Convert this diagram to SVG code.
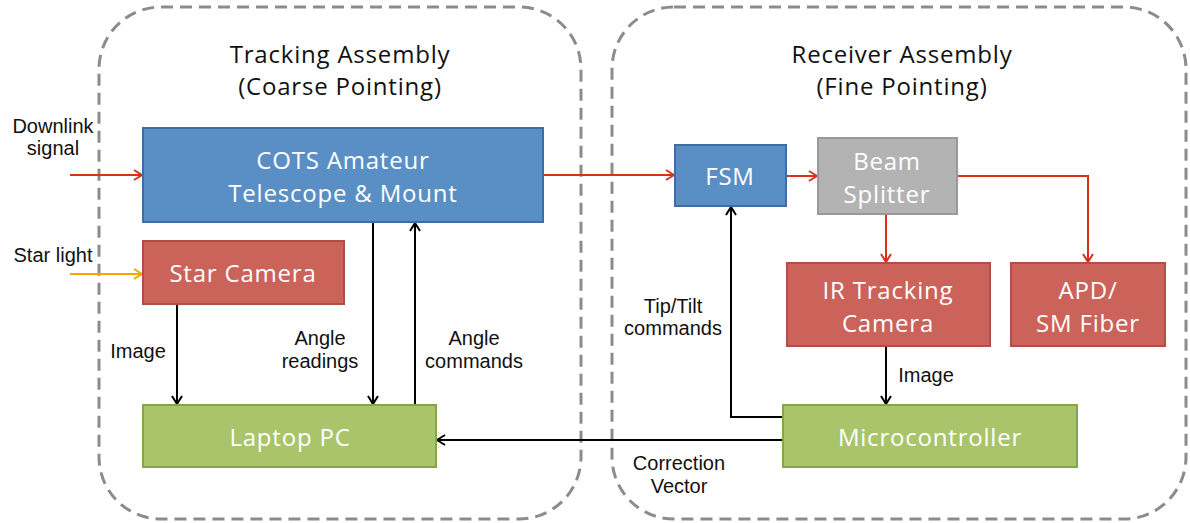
<svg xmlns="http://www.w3.org/2000/svg" width="1190" height="523" viewBox="0 0 1190 523">
  <defs>
    <style>
      .group { fill: none; stroke: #8c8c8c; stroke-width: 3; stroke-dasharray: 12 7; }
      .title { font-family: "Open Sans", Lato, sans-serif; font-size: 24px; letter-spacing: 0.8px; fill: #111; text-anchor: middle; }
      .node-text { font-family: "Open Sans", Lato, sans-serif; font-size: 24px; letter-spacing: 0.8px; fill: #ffffff; text-anchor: middle; }
      .label { font-family: "Liberation Sans", Arial, sans-serif; font-size: 20px; fill: #111; text-anchor: middle; }
      .blue { fill: #5a8fc6; stroke: #3f6d9e; stroke-width: 2; }
      .red { fill: #cb635a; stroke: #b04d45; stroke-width: 2; }
      .gray { fill: #b3b3b3; stroke: #999999; stroke-width: 2; }
      .green { fill: #a9c46b; stroke: #86a44a; stroke-width: 2; }
      .sig { fill: none; stroke: #d9301c; stroke-width: 2; }
      .star { fill: none; stroke: #f0a800; stroke-width: 2; }
      .ctl { fill: none; stroke: #000; stroke-width: 2; }
    </style>
    <marker id="ah-red" viewBox="0 0 12 12" refX="11" refY="6" markerWidth="12" markerHeight="12" markerUnits="userSpaceOnUse" orient="auto">
      <path d="M3,1 L11,6 L3,11" fill="none" stroke="#d9301c" stroke-width="2"/>
    </marker>
    <marker id="ah-orange" viewBox="0 0 12 12" refX="11" refY="6" markerWidth="12" markerHeight="12" markerUnits="userSpaceOnUse" orient="auto">
      <path d="M3,1 L11,6 L3,11" fill="none" stroke="#f0a800" stroke-width="2"/>
    </marker>
    <marker id="ah-black" viewBox="0 0 12 12" refX="11" refY="6" markerWidth="12" markerHeight="12" markerUnits="userSpaceOnUse" orient="auto">
      <path d="M3,1 L11,6 L3,11" fill="none" stroke="#000" stroke-width="2"/>
    </marker>
  </defs>

  <rect width="1190" height="523" fill="#ffffff"/>

  <!-- assembly groupings -->
  <g id="tracking-assembly">
    <rect class="group" x="99" y="7" width="482" height="512" rx="62" ry="62"/>
    <text class="title" x="340" y="63">Tracking Assembly</text>
    <text class="title" x="340" y="95">(Coarse Pointing)</text>
  </g>
  <g id="receiver-assembly">
    <rect class="group" x="612" y="7" width="574" height="512" rx="62" ry="62"/>
    <text class="title" x="902" y="63">Receiver Assembly</text>
    <text class="title" x="902" y="95">(Fine Pointing)</text>
  </g>

  <!-- connectors -->
  <g id="connectors">
    <path class="sig" d="M70,175 H142" marker-end="url(#ah-red)"/>
    <path class="star" d="M70,274 H142" marker-end="url(#ah-orange)"/>
    <path class="sig" d="M543,175 H674" marker-end="url(#ah-red)"/>
    <path class="sig" d="M786,176 H817" marker-end="url(#ah-red)"/>
    <path class="sig" d="M886,214 V262" marker-end="url(#ah-red)"/>
    <path class="sig" d="M957,176 H1088 V262" marker-end="url(#ah-red)"/>
    <path class="ctl" d="M177,304 V404" marker-end="url(#ah-black)"/>
    <path class="ctl" d="M373,222 V404" marker-end="url(#ah-black)"/>
    <path class="ctl" d="M415,405 V223" marker-end="url(#ah-black)"/>
    <path class="ctl" d="M886,346 V404" marker-end="url(#ah-black)"/>
    <path class="ctl" d="M783,417 H731 V207" marker-end="url(#ah-black)"/>
    <path class="ctl" d="M783,440 H437" marker-end="url(#ah-black)"/>

    <text class="label" x="53" y="133">Downlink</text>
    <text class="label" x="53" y="155">signal</text>
    <text class="label" x="53" y="262">Star light</text>
    <text class="label" x="138" y="358">Image</text>
    <text class="label" x="320" y="345">Angle</text>
    <text class="label" x="320" y="368">readings</text>
    <text class="label" x="474" y="345">Angle</text>
    <text class="label" x="474" y="368">commands</text>
    <text class="label" x="673" y="313">Tip/Tilt</text>
    <text class="label" x="673" y="335">commands</text>
    <text class="label" x="926" y="382">Image</text>
    <text class="label" x="679" y="470">Correction</text>
    <text class="label" x="679" y="493">Vector</text>
  </g>

  <!-- nodes -->
  <g id="telescope">
    <rect class="blue" x="143" y="128" width="400" height="94"/>
    <text class="node-text" x="343" y="169">COTS Amateur</text>
    <text class="node-text" x="343" y="202">Telescope &amp; Mount</text>
  </g>
  <g id="star-camera">
    <rect class="red" x="143" y="241" width="201" height="63"/>
    <text class="node-text" x="243" y="282">Star Camera</text>
  </g>
  <g id="laptop">
    <rect class="green" x="143" y="405" width="293" height="62"/>
    <text class="node-text" x="290" y="446">Laptop PC</text>
  </g>
  <g id="fsm">
    <rect class="blue" x="675" y="145" width="111" height="61"/>
    <text class="node-text" x="730" y="185">FSM</text>
  </g>
  <g id="beam-splitter">
    <rect class="gray" x="818" y="138" width="139" height="76"/>
    <text class="node-text" x="887" y="170">Beam</text>
    <text class="node-text" x="887" y="203">Splitter</text>
  </g>
  <g id="ir-camera">
    <rect class="red" x="787" y="263" width="203" height="83"/>
    <text class="node-text" x="888" y="299">IR Tracking</text>
    <text class="node-text" x="888" y="332">Camera</text>
  </g>
  <g id="apd-fiber">
    <rect class="red" x="1011" y="263" width="154" height="83"/>
    <text class="node-text" x="1088" y="299">APD/</text>
    <text class="node-text" x="1088" y="332">SM Fiber</text>
  </g>
  <g id="microcontroller">
    <rect class="green" x="783" y="405" width="294" height="62"/>
    <text class="node-text" x="930" y="446">Microcontroller</text>
  </g>
</svg>
